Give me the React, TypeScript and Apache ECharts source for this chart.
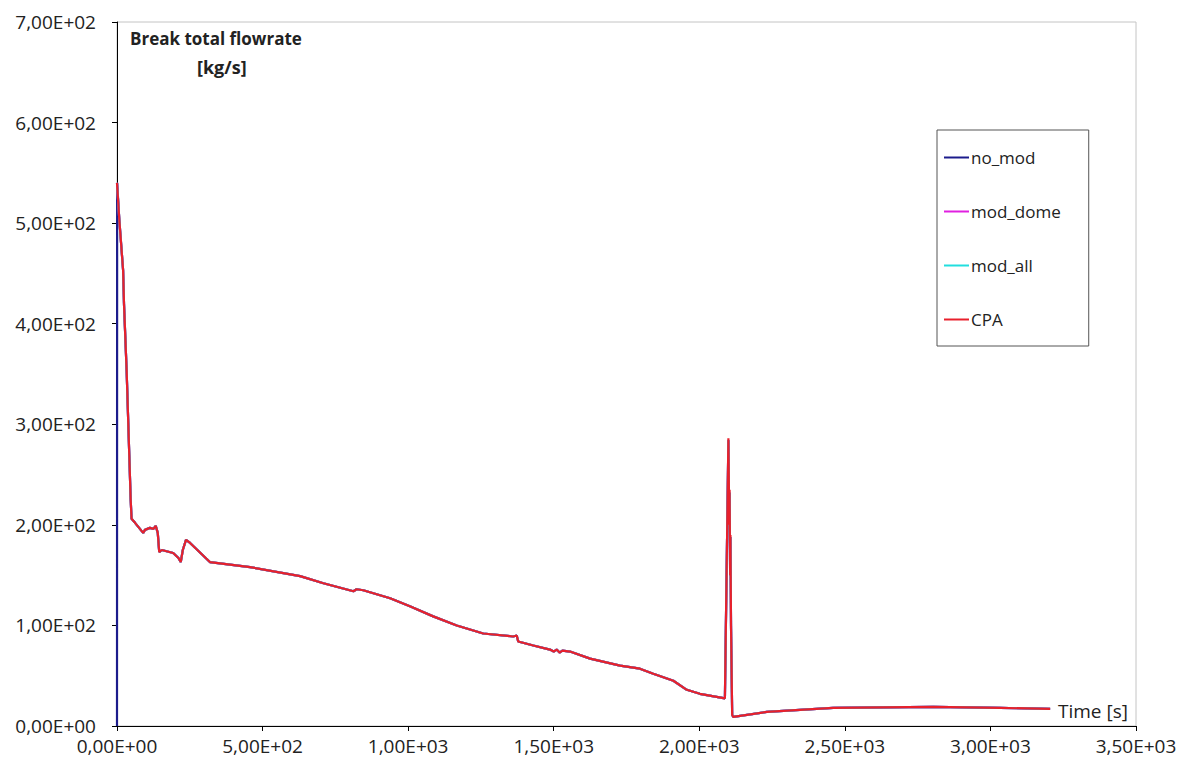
import React, { useEffect, useRef } from "react";
import * as echarts from "echarts";

// Time [s] and break total flowrate [kg/s]
const cpaTime = [0, 8, 21, 24, 33, 47, 50, 62, 90, 96, 113, 125, 133, 140, 145, 154, 193, 211, 219, 226, 237, 251, 319, 457, 629, 709, 812, 823, 846, 938, 1006, 1086, 1167, 1258, 1361, 1373, 1378, 1430, 1487, 1500, 1510, 1520, 1530, 1556, 1625, 1728, 1796, 1842, 1911, 1957, 2002, 2088, 2100, 2103, 2104, 2106, 2107, 2109, 2113, 2117, 2232, 2460, 2804, 3033, 3205];
const cpaFlow = [540, 503, 453, 420, 354, 225, 206, 202, 192, 195, 197, 196, 199, 192, 173, 175, 172, 167, 163, 175, 185, 182, 163, 158, 149, 142, 134, 136, 135, 127, 119, 109, 100, 92, 89, 90, 84, 80, 76, 74, 76, 73, 75, 74, 67, 60, 57, 52, 45, 36, 32, 27.5, 286, 200, 235, 150, 190, 100, 11, 9, 14, 18, 19, 18, 17];

const noModTime = [0, 0.5, 8, 21, 24, 33, 47, 50, 62, 90, 96, 113, 125, 133, 140, 145, 154, 193, 211, 219, 226, 237, 251, 319, 457, 629, 709, 812, 823, 846, 938, 1006, 1086, 1167, 1258, 1361, 1373, 1378, 1430, 1487, 1500, 1510, 1520, 1530, 1556, 1625, 1728, 1796, 1842, 1911, 1957, 2002, 2088, 2100, 2103, 2104, 2106, 2107, 2109, 2113, 2117, 2232, 2460, 2804, 3033, 3205];
const noModFlow = [0, 540, 503, 453, 420, 354, 225, 206, 202, 192, 195, 197, 196, 199, 192, 173, 175, 172, 167, 163, 175, 185, 182, 163, 158, 149, 142, 134, 136, 135, 127, 119, 109, 100, 92, 89, 90, 84, 80, 76, 74, 76, 73, 75, 74, 67, 60, 57, 52, 45, 36, 32, 27.5, 284, 200, 232, 150, 188, 100, 11, 9, 14, 18, 19, 18, 17];
const modDomeFlow = [540, 503, 453, 420, 354, 225, 206, 202, 192, 195, 197, 196, 199, 192, 173, 175, 172, 167, 163, 175, 185, 182, 163, 158, 149, 142, 134, 136, 135, 127, 119, 109, 100, 92, 89, 90, 84, 80, 76, 74, 76, 73, 75, 74, 67, 60, 57, 52, 45, 36, 32, 27.5, 284, 200, 232, 150, 188, 100, 11, 9, 14, 18, 19, 18, 17];
const modAllFlow = [540, 503, 453, 420, 354, 225, 206, 202, 192, 195, 197, 196, 199, 192, 173, 175, 172, 167, 163, 175, 185, 182, 163, 158, 149, 142, 134, 136, 135, 127, 119, 109, 100, 92, 89, 90, 84, 80, 76, 74, 76, 73, 75, 74, 67, 60, 57, 52, 45, 36, 32, 27.5, 284, 200, 232, 150, 188, 100, 11, 9, 14, 18, 19, 18, 17];

const seriesNames = ["no_mod", "mod_dome", "mod_all", "CPA"];
const seriesColors = ["#1c1c8c", "#e020e0", "#22dede", "#e8202c"];

const FONT = "'Open Sans', 'DejaVu Sans', sans-serif";

function sci(v: number): string {
  if (v === 0) return "0,00E+00";
  const e = Math.floor(Math.log10(Math.abs(v)) + 1e-9);
  const m = v / Math.pow(10, e);
  const es = (e < 10 ? "0" : "") + e;
  return m.toFixed(2).replace(".", ",") + "E+" + es;
}

function pairs(t: number[], v: number[]) {
  return t.map((x, i) => [x, v[i]]);
}

export default function App() {
  const ref = useRef<HTMLDivElement>(null);
  useEffect(() => {
    if (!ref.current) return;
    const chart = echarts.init(ref.current, null, { renderer: "svg" });
    const dataSets = [
      pairs(noModTime, noModFlow),
      pairs(cpaTime, modDomeFlow),
      pairs(cpaTime, modAllFlow),
      pairs(cpaTime, cpaFlow),
    ];
    chart.setOption({
      animation: false,
      backgroundColor: "#ffffff",
      grid: {
        left: 117,
        top: 22,
        right: 54,
        bottom: 40,
        show: true,
        borderColor: "#c4c4c4",
        borderWidth: 1,
        backgroundColor: "transparent",
      },
      legend: {
        orient: "vertical",
        left: 937,
        top: 130,
        data: seriesNames.map((n) => ({ name: n, icon: "rect" })),
        backgroundColor: "#ffffff",
        borderColor: "#555555",
        borderWidth: 1,
        padding: [19, 28, 18, 7],
        itemWidth: 25,
        itemHeight: 2,
        itemGap: 37,
        textStyle: { fontFamily: FONT, fontSize: 17, color: "#222", padding: [0, 0, 0, -3] },
      },
      xAxis: {
        type: "value",
        min: 0,
        max: 3500,
        interval: 500,
        axisLine: { show: true, onZero: false, lineStyle: { color: "#000", width: 1 } },
        axisTick: { show: true, inside: false, length: 5, lineStyle: { color: "#000" } },
        axisLabel: {
          margin: 10,
          fontFamily: FONT,
          fontSize: 19,
          color: "#222",
          formatter: (v: number) => sci(v),
        },
        splitLine: { show: false },
      },
      yAxis: {
        type: "value",
        min: 0,
        max: 700,
        interval: 100,
        axisLine: { show: true, lineStyle: { color: "#000", width: 1 } },
        axisTick: { show: true, inside: false, length: 5, lineStyle: { color: "#000" } },
        axisLabel: {
          margin: 21,
          fontFamily: FONT,
          fontSize: 19,
          color: "#222",
          formatter: (v: number) => sci(v),
        },
        splitLine: { show: false },
      },
      graphic: [
        {
          type: "text",
          left: 130,
          top: 30,
          style: {
            text: "Break total flowrate",
            fontFamily: FONT,
            fontSize: 17,
            fontWeight: "bold",
            fill: "#222",
          },
        },
        {
          type: "text",
          left: 197,
          top: 58,
          style: {
            text: "[kg/s]",
            fontFamily: FONT,
            fontSize: 18,
            fontWeight: "bold",
            fill: "#222",
          },
        },
        {
          type: "text",
          left: 1058,
          top: 701,
          style: {
            text: "Time [s]",
            fontFamily: FONT,
            fontSize: 19,
            fill: "#222",
          },
        },
      ],
      series: seriesNames.map((name, i) => ({
        name,
        type: "line",
        data: dataSets[i],
        symbol: "none",
        showSymbol: false,
        color: seriesColors[i],
        lineStyle: { color: seriesColors[i], width: 2.2 },
        z: 2 + i,
      })),
    });
    return () => chart.dispose();
  }, []);
  return (
    <div
      ref={ref}
      style={{ position: "absolute", left: 0, top: 0, width: 1190, height: 766 }}
    />
  );
}
